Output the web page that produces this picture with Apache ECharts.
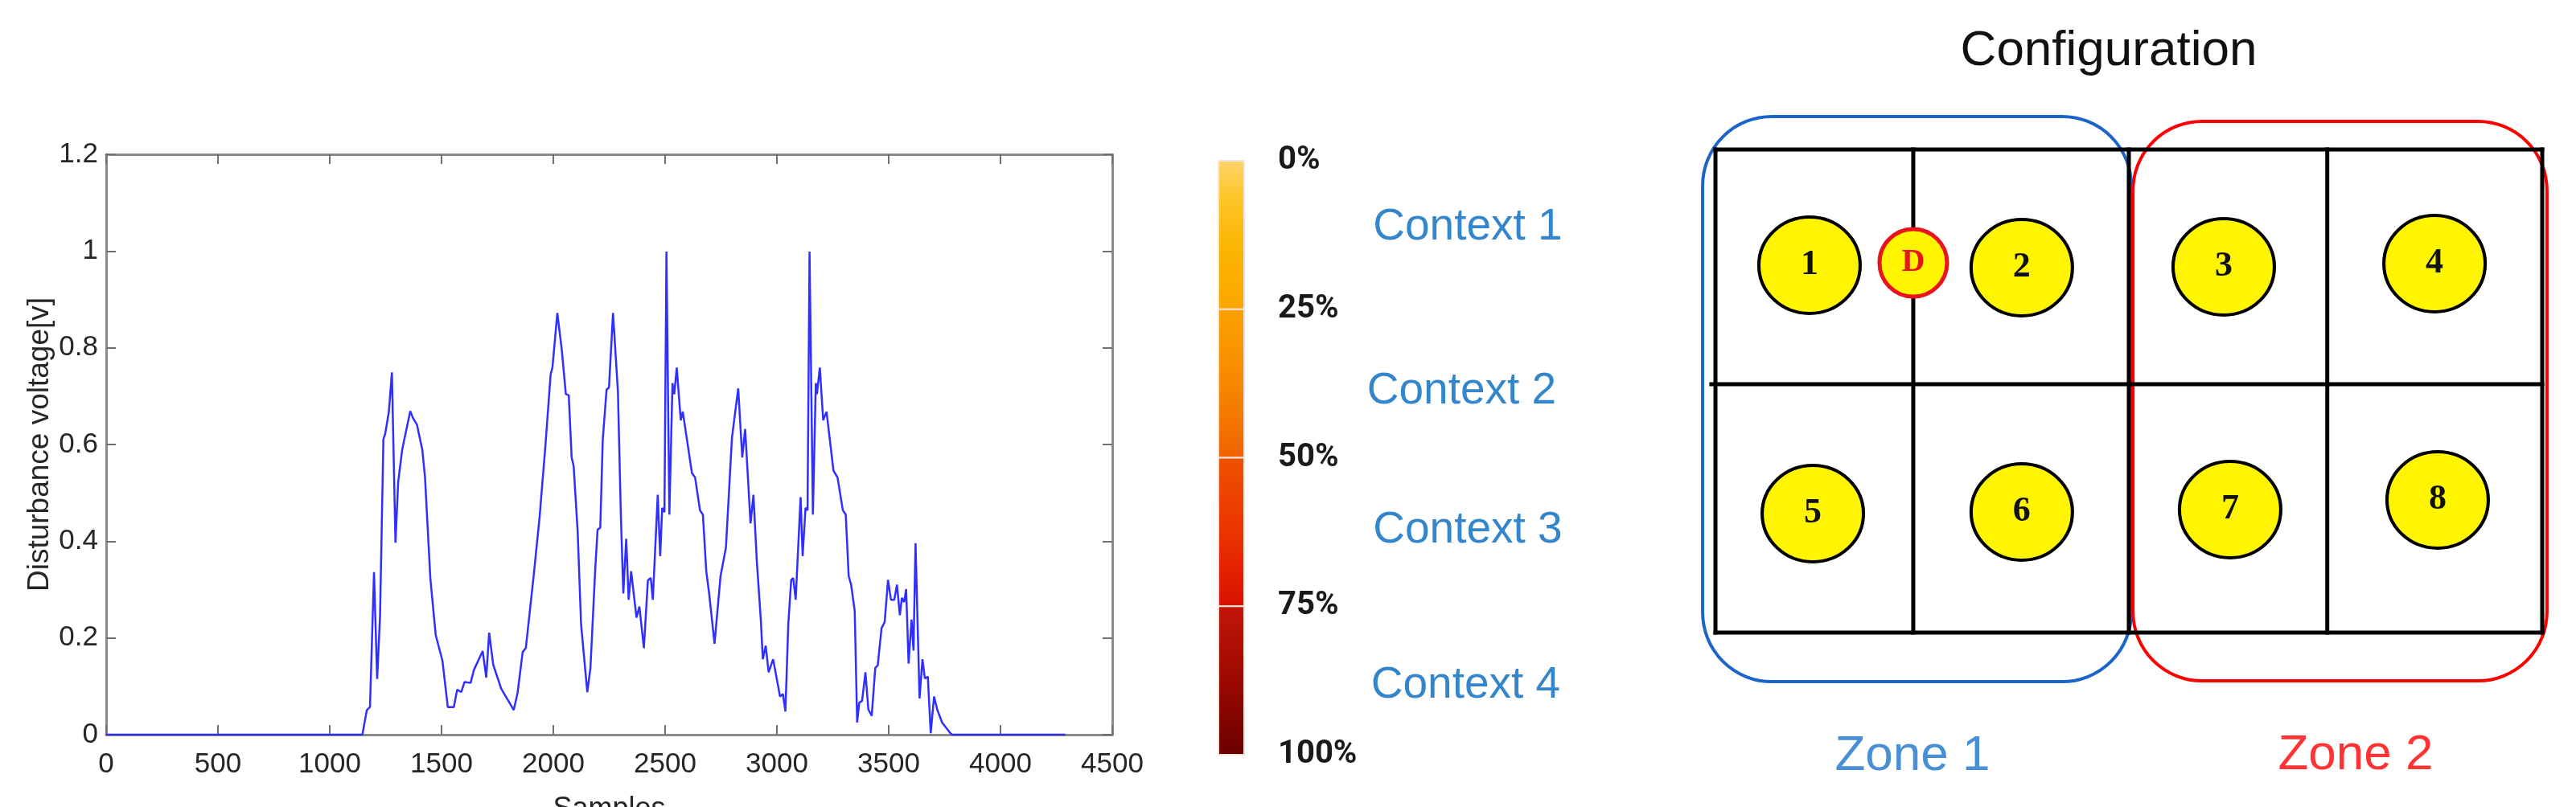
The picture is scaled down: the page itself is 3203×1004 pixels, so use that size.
<!DOCTYPE html>
<html><head><meta charset="utf-8">
<script src="https://cdn.jsdelivr.net/npm/echarts@6/dist/echarts.min.js"></script>
<style>html,body{margin:0;padding:0;background:#fff}#c{width:3203px;height:1004px}</style>
</head><body><div id="c"></div>
<script>
// ---- Disturbance voltage trace (sample index, volts) ----
const samples = [0,1146,1166,1180,1198,1212,1225,1240,1248,1264,1278,1294,1306,1324,1360,1372,1390,1414,1426,1450,1474,1504,1528,1555,1570,1588,1603,1630,1645,1684,1700,1713,1731,1767,1823,1840,1863,1877,1912,1938,1964,1988,1996,2018,2038,2056,2069,2082,2091,2109,2124,2152,2166,2188,2198,2210,2221,2238,2249,2267,2289,2302,2313,2326,2337,2348,2372,2385,2405,2423,2436,2445,2467,2478,2487,2497,2506,2519,2533,2541,2552,2570,2579,2620,2634,2656,2669,2684,2697,2721,2748,2772,2799,2827,2845,2858,2882,2895,2910,2928,2937,2950,2963,2983,3014,3027,3038,3051,3064,3073,3084,3106,3115,3128,3137,3146,3161,3174,3179,3192,3207,3222,3253,3271,3295,3308,3321,3332,3348,3359,3368,3381,3396,3409,3424,3440,3451,3468,3482,3497,3510,3525,3537,3550,3559,3569,3578,3589,3602,3611,3620,3638,3651,3662,3675,3688,3703,3717,3739,3776,3785,4290];
const voltage = [0,0,0.051,0.057,0.336,0.115,0.245,0.611,0.622,0.666,0.749,0.397,0.522,0.589,0.669,0.655,0.641,0.589,0.533,0.323,0.206,0.153,0.057,0.057,0.093,0.088,0.109,0.107,0.134,0.173,0.118,0.211,0.145,0.095,0.051,0.086,0.171,0.179,0.328,0.447,0.594,0.745,0.759,0.872,0.795,0.704,0.702,0.573,0.555,0.419,0.229,0.088,0.138,0.347,0.424,0.428,0.609,0.713,0.718,0.872,0.709,0.455,0.292,0.405,0.279,0.338,0.242,0.265,0.179,0.319,0.324,0.279,0.496,0.369,0.469,0.460,0.999,0.455,0.727,0.704,0.759,0.650,0.668,0.541,0.532,0.464,0.455,0.338,0.292,0.188,0.328,0.387,0.614,0.716,0.573,0.632,0.437,0.496,0.360,0.238,0.156,0.184,0.129,0.156,0.079,0.084,0.048,0.229,0.320,0.324,0.279,0.491,0.369,0.469,0.464,0.999,0.455,0.727,0.704,0.759,0.650,0.668,0.546,0.532,0.464,0.455,0.328,0.310,0.256,0.025,0.066,0.070,0.129,0.052,0.039,0.138,0.143,0.220,0.233,0.320,0.279,0.279,0.310,0.247,0.283,0.274,0.301,0.147,0.238,0.174,0.396,0.075,0.156,0.116,0.120,0.003,0.079,0.052,0.025,0.003,0,0];

// ---- Colour scale (percent) ----
const percentLabels = ['0%','25%','50%','75%','100%'];
const segStart = [0,25,50,75];
const segEnd = [25,50,75,100];
const contextNames = ['Context 1','Context 2','Context 3','Context 4'];
const contextPos = [11.2,38.8,62.2,88.4];
const contextX = [0.5,0.47,0.5,0.49];

// ---- Configuration diagram (layout units) ----
const sensorIds = ['1','2','3','4','5','6','7','8'];
const sensorX = [4.55,14.82,24.59,34.79,4.71,14.82,24.9,34.94];
const sensorY = [18.25,18.13,18.17,18.33,5.91,5.99,6.11,6.59];
const detector = ['D'];
const detectorX = [9.57];
const detectorY = [18.37];
const wallX1 = [0,9.57,20,29.6,40,0,-0.2,0];
const wallY1 = [0,0,0,0,0,0,12.34,24];
const wallX2 = [0,9.57,20,29.6,40,40,40,40];
const wallY2 = [24,24,24,24,24,0,12.34,24];
const zoneNames = ['Zone 1','Zone 2'];
const zoneLeft = [-0.62,20.2];
const zoneBottom = [-2.44,-2.4];
const zoneRight = [20.12,40.23];
const zoneTop = [25.64,25.4];
const zoneLabelX = [9.53,30.97];
const zoneLabelY = [-6.15,-6.11];

const FONT = 'Liberation Sans, Arial, sans-serif';
const zoneColors = ['#1c64c8','#ff0000'];
const zoneTextColors = ['#1a73cc','#ff0000'];
const segStops = [
  [['#ffd46a',0],['#fdc62a',0.25],['#fbb400',0.6],['#fba600',1]],
  [['#fba200',0],['#f78800',0.5],['#ef6200',1]],
  [['#ee5200',0],['#eb3400',0.5],['#da1000',1]],
  [['#c2150a',0],['#9c0900',0.5],['#6a0000',1]]
];

const chart = echarts.init(document.getElementById('c'), null, {renderer:'canvas'});

const axisLineStyle = {onZero:false, lineStyle:{color:'#8a8a8a', width:3}};
const tickStyle = {show:true, inside:true, length:12, lineStyle:{color:'#707070', width:2}};
const labelStyle = {color:'#262626', fontSize:35, fontFamily:FONT, formatter:(v)=>String(v)};

const option = {
  animation:false,
  backgroundColor:'#ffffff',
  title:{text:'Configuration', left:2617, top:28, textAlign:'center',
    textStyle:{fontSize:62, fontWeight:'normal', color:'#111', fontFamily:FONT}},
  grid:[
    {left:132, top:192, width:1251, height:722, outerBoundsMode:'none'},
    {left:1515, top:200, width:32, height:739, outerBoundsMode:'none'},
    {left:1700, top:200, width:250, height:739, outerBoundsMode:'none'},
    {left:2133, top:186, width:1028, height:601, outerBoundsMode:'none'}
  ],
  xAxis:[
    {gridIndex:0, type:'value', min:0, max:4500, interval:500, position:'bottom',
      name:'Samples', nameLocation:'middle', nameGap:75,
      nameTextStyle:{fontSize:36, color:'#262626', fontFamily:FONT},
      axisLine:axisLineStyle, axisTick:tickStyle,
      axisLabel:Object.assign({margin:20}, labelStyle), splitLine:{show:false}},
    {gridIndex:0, type:'value', min:0, max:4500, interval:500, position:'top',
      axisLine:axisLineStyle, axisTick:tickStyle,
      axisLabel:{show:false}, splitLine:{show:false}},
    {gridIndex:1, type:'value', min:0, max:1, show:false},
    {gridIndex:2, type:'value', min:0, max:1, show:false},
    {gridIndex:3, type:'value', min:0, max:40, show:false}
  ],
  yAxis:[
    {gridIndex:0, type:'value', min:0, max:1.2, interval:0.2, position:'left',
      name:'Disturbance voltage[v]', nameLocation:'middle', nameGap:64,
      nameTextStyle:{fontSize:37, color:'#262626', fontFamily:FONT},
      axisLine:axisLineStyle, axisTick:tickStyle,
      axisLabel:Object.assign({margin:10}, labelStyle), splitLine:{show:false}},
    {gridIndex:0, type:'value', min:0, max:1.2, interval:0.2, position:'right',
      axisLine:axisLineStyle, axisTick:tickStyle,
      axisLabel:{show:false}, splitLine:{show:false}},
    {gridIndex:1, type:'value', min:0, max:100, interval:25, inverse:true, position:'right',
      axisLine:{show:false}, axisTick:{show:false}, splitLine:{show:false},
      axisLabel:{margin:42, fontSize:40, fontWeight:'bold', color:'#1a1a1a', fontFamily:'Roboto, sans-serif',
        formatter:(v)=>percentLabels[Math.round(v/25)]}},
    {gridIndex:2, type:'value', min:0, max:100, inverse:true, show:false},
    {gridIndex:3, type:'value', min:0, max:24, show:false}
  ],
  series:[
    {type:'line', xAxisIndex:0, yAxisIndex:0, showSymbol:false, symbol:'none',
      data:samples.map((s,i)=>[s, voltage[i]]),
      lineStyle:{color:'#2f2fff', width:2.5}},
    {type:'custom', xAxisIndex:2, yAxisIndex:2,
      data:segStart.map((s,i)=>[s, segEnd[i]]),
      renderItem:function(params, api){
        const p1 = api.coord([0, api.value(0)]);
        const p2 = api.coord([1, api.value(1)]);
        const stops = segStops[params.dataIndex].map(s=>({offset:s[1], color:s[0]}));
        return {type:'rect', shape:{x:p1[0], y:p1[1], width:p2[0]-p1[0], height:p2[1]-p1[1]},
          style:{fill:new echarts.graphic.LinearGradient(0,0,0,1,stops), stroke:'#f3e6dc', lineWidth:2}};
      }},
    {type:'scatter', xAxisIndex:3, yAxisIndex:3, symbolSize:0, clip:false,
      data:contextNames.map((n,i)=>({value:[contextX[i], contextPos[i]], name:n})),
      label:{show:true, position:'inside', formatter:'{b}', fontSize:55, color:'#0068be', fontFamily:FONT}},
    {type:'custom', xAxisIndex:4, yAxisIndex:4, clip:false,
      data:zoneNames.map((n,i)=>[zoneLeft[i], zoneBottom[i], zoneRight[i], zoneTop[i]]),
      renderItem:function(params, api){
        const p1 = api.coord([api.value(0), api.value(3)]);
        const p2 = api.coord([api.value(2), api.value(1)]);
        return {type:'rect', shape:{x:p1[0], y:p1[1], width:p2[0]-p1[0], height:p2[1]-p1[1], r:86},
          style:{fill:'none', stroke:zoneColors[params.dataIndex], lineWidth:4}};
      }, z:2},
    {type:'custom', xAxisIndex:4, yAxisIndex:4, clip:false,
      data:wallX1.map((x,i)=>[x, wallY1[i], wallX2[i], wallY2[i]]),
      renderItem:function(params, api){
        const a = api.coord([api.value(0), api.value(1)]);
        const b = api.coord([api.value(2), api.value(3)]);
        return {type:'line', shape:{x1:a[0], y1:a[1], x2:b[0], y2:b[1]},
          style:{stroke:'#000', lineWidth:5, lineCap:'square'}};
      }, z:3},
    {type:'scatter', xAxisIndex:4, yAxisIndex:4, symbol:'circle', symbolSize:[126,120], z:4, clip:false,
      data:sensorIds.map((n,i)=>({value:[sensorX[i], sensorY[i]], name:n})),
      itemStyle:{color:'#fff500', borderColor:'#000', borderWidth:4, opacity:1},
      label:{show:true, position:'inside', formatter:'{b}', fontSize:44, fontWeight:'bold',
        color:'#111', fontFamily:'Liberation Serif, Times New Roman, serif'}},
    {type:'scatter', xAxisIndex:4, yAxisIndex:4, symbol:'circle', symbolSize:84, z:4, clip:false,
      data:detector.map((n,i)=>({value:[detectorX[i], detectorY[i]], name:n})),
      itemStyle:{color:'#fff500', borderColor:'#e8141c', borderWidth:5, opacity:1},
      label:{show:true, position:'inside', formatter:'{b}', fontSize:40, fontWeight:'bold',
        color:'#e8141c', fontFamily:'Liberation Serif, Times New Roman, serif'}},
    {type:'scatter', xAxisIndex:4, yAxisIndex:4, symbolSize:0, clip:false,
      data:zoneNames.map((n,i)=>({value:[zoneLabelX[i], zoneLabelY[i]], name:n,
        label:{color:zoneTextColors[i]}})),
      label:{show:true, position:'inside', formatter:'{b}', fontSize:62, fontFamily:FONT}}
  ]
};
chart.setOption(option);
</script>
</body></html>
